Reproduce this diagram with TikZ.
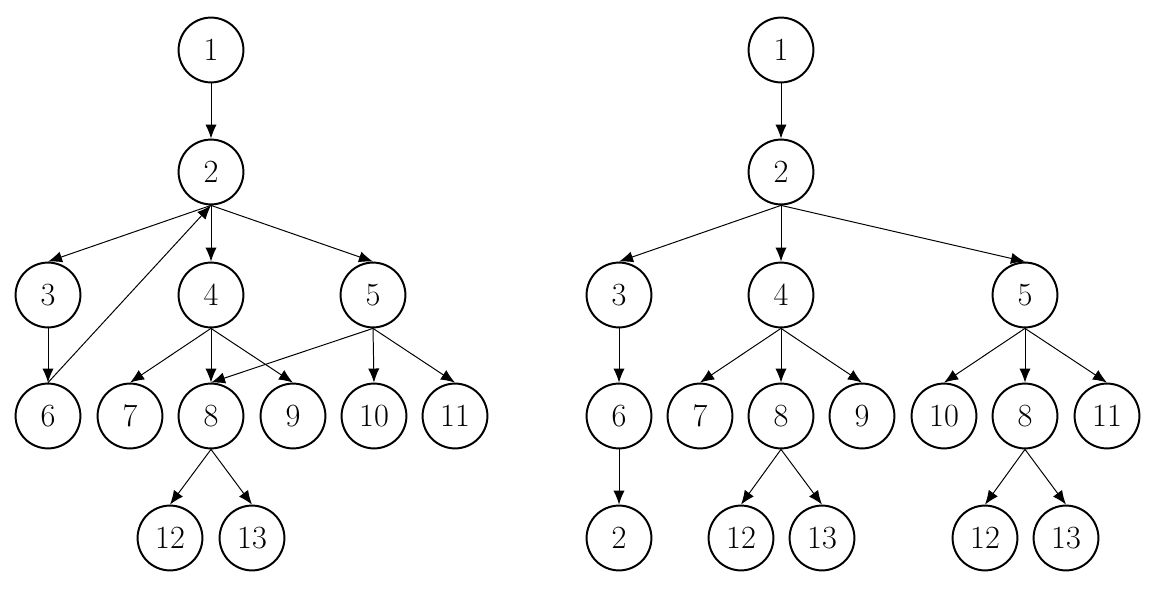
\documentclass[tikz,border=0pt]{standalone}
\usepackage{fontspec}
\usetikzlibrary{arrows.meta}
\begin{document}
\begin{tikzpicture}[x=0.025cm,y=-0.025cm,
  vtx/.style={circle,draw,line width=1.4pt,minimum size=1.62cm,inner sep=0pt,font=\fontsize{23}{26}\selectfont},
  arr/.style={line width=0.7pt,-{Latex[length=10pt,width=8pt]}}]
\useasboundingbox (0,0) rectangle (1160,590);
% left tree
\node[vtx] (a1) at (211,50) {1};
\node[vtx] (a2) at (211,172) {2};
\node[vtx] (a3) at (48,295) {3};
\node[vtx] (a4) at (211,295) {4};
\node[vtx] (a5) at (373,295) {5};
\node[vtx] (a6) at (48,416) {6};
\node[vtx] (a7) at (130,416) {7};
\node[vtx] (a8) at (211,416) {8};
\node[vtx] (a9) at (293,416) {9};
\node[vtx] (a10) at (374,416) {10};
\node[vtx] (a11) at (455,416) {11};
\node[vtx] (a12) at (170,538) {12};
\node[vtx] (a13) at (252,538) {13};
\draw[arr] (a1.south) -- (a2.north);
\draw[arr] (a2.south) -- (a3.north);
\draw[arr] (a2.south) -- (a4.north);
\draw[arr] (a2.south) -- (a5.north);
\draw[arr] (a3.south) -- (a6.north);
\draw[arr] (a6.north) -- (a2.south);
\draw[arr] (a4.south) -- (a7.north);
\draw[arr] (a4.south) -- (a8.north);
\draw[arr] (a4.south) -- (a9.north);
\draw[arr] (a5.south) -- (a8.north);
\draw[arr] (a5.south) -- (a10.north);
\draw[arr] (a5.south) -- (a11.north);
\draw[arr] (a8.south) -- (a12.north);
\draw[arr] (a8.south) -- (a13.north);
% right tree
\node[vtx] (b1) at (781,50) {1};
\node[vtx] (b2) at (781,172) {2};
\node[vtx] (b3) at (619,295) {3};
\node[vtx] (b4) at (781,295) {4};
\node[vtx] (b5) at (1025,295) {5};
\node[vtx] (b6) at (619,416) {6};
\node[vtx] (b7) at (700,416) {7};
\node[vtx] (b8) at (781,416) {8};
\node[vtx] (b9) at (862,416) {9};
\node[vtx] (b10) at (944,416) {10};
\node[vtx] (c8) at (1025,416) {8};
\node[vtx] (b11) at (1107,416) {11};
\node[vtx] (c2) at (619,538) {2};
\node[vtx] (b12) at (741,538) {12};
\node[vtx] (b13) at (822,538) {13};
\node[vtx] (c12) at (985,538) {12};
\node[vtx] (c13) at (1066,538) {13};
\draw[arr] (b1.south) -- (b2.north);
\draw[arr] (b2.south) -- (b3.north);
\draw[arr] (b2.south) -- (b4.north);
\draw[arr] (b2.south) -- (b5.north);
\draw[arr] (b3.south) -- (b6.north);
\draw[arr] (b6.south) -- (c2.north);
\draw[arr] (b4.south) -- (b7.north);
\draw[arr] (b4.south) -- (b8.north);
\draw[arr] (b4.south) -- (b9.north);
\draw[arr] (b5.south) -- (b10.north);
\draw[arr] (b5.south) -- (c8.north);
\draw[arr] (b5.south) -- (b11.north);
\draw[arr] (b8.south) -- (b12.north);
\draw[arr] (b8.south) -- (b13.north);
\draw[arr] (c8.south) -- (c12.north);
\draw[arr] (c8.south) -- (c13.north);
\end{tikzpicture}
\end{document}
